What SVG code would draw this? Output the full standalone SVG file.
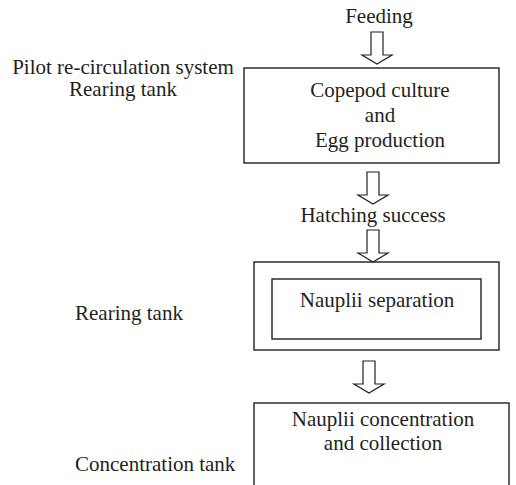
<svg xmlns="http://www.w3.org/2000/svg" width="516" height="485" viewBox="0 0 516 485">
<style>
text{font-family:"Liberation Serif","Times New Roman",serif;font-size:21px;fill:#231f20}
.c{text-anchor:middle}
.box{fill:none;stroke:#231f20;stroke-width:1.4}
.arr{fill:#fff;stroke:#231f20;stroke-width:1.2;stroke-linejoin:miter}
</style>
<rect width="516" height="485" fill="#fff"/>
<defs>
<path id="arrow" d="M-6,0 H6 V23 H15 L0,32 L-15,23 H-6 Z"/>
</defs>
<g id="labels">
<text class="c" x="379" y="23">Feeding</text>
<text class="c" x="123" y="74">Pilot re-circulation system</text>
<text class="c" x="123" y="96">Rearing tank</text>
<text class="c" x="373" y="222">Hatching success</text>
<text x="75" y="320">Rearing tank</text>
<text x="75" y="471">Concentration tank</text>
</g>
<g id="copepod-box">
<rect class="box" x="244" y="68" width="255" height="95"/>
<text class="c" x="380" y="97">Copepod culture</text>
<text class="c" x="380" y="122">and</text>
<text class="c" x="380" y="147">Egg production</text>
</g>
<g id="rearing-box">
<rect class="box" x="254" y="262" width="245" height="88"/>
<rect class="box" x="272" y="279" width="209" height="60"/>
<text class="c" x="377" y="307">Nauplii separation</text>
</g>
<g id="concentration-box">
<rect class="box" x="254" y="403" width="255" height="90"/>
<text class="c" x="383" y="426">Nauplii concentration</text>
<text class="c" x="383" y="450">and collection</text>
</g>
<g id="connectors">
<use href="#arrow" class="arr" x="377" y="32"/>
<use href="#arrow" class="arr" x="373" y="172"/>
<use href="#arrow" class="arr" x="373" y="230"/>
<use href="#arrow" class="arr" x="369" y="361"/>
</g>
</svg>
